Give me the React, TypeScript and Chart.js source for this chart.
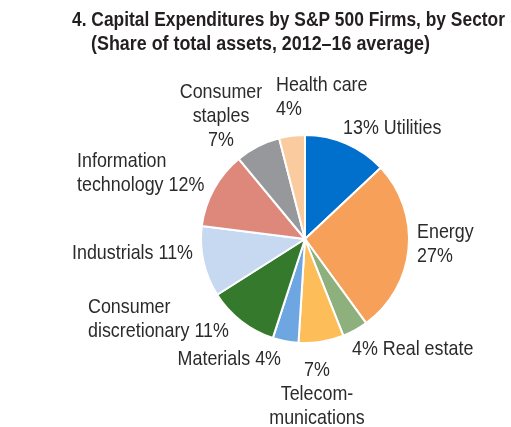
import React, { useEffect, useRef } from "react";
import { Chart, registerables } from "chart.js";

Chart.register(...registerables);

const sectors = [
  "Utilities",
  "Energy",
  "Real estate",
  "Telecommunications",
  "Materials",
  "Consumer discretionary",
  "Industrials",
  "Information technology",
  "Consumer staples",
  "Health care",
];
const shares = [13, 27, 4, 7, 4, 11, 11, 12, 7, 4];
const sliceColors = [
  "#0070CC",
  "#F7A05A",
  "#8DB07D",
  "#FDBE59",
  "#6DA6E0",
  "#357A2C",
  "#C6D9F1",
  "#DE887C",
  "#97989B",
  "#FBCBA0",
];
const labelLines = [
  ["13% Utilities"],
  ["Energy", "27%"],
  ["4% Real estate"],
  ["7%", "Telecom-", "munications"],
  ["Materials 4%"],
  ["Consumer", "discretionary 11%"],
  ["Industrials 11%"],
  ["Information", "technology 12%"],
  ["Consumer", "staples", "7%"],
  ["Health care", "4%"],
];
const titleLines = [
  "4. Capital Expenditures by S&P 500 Firms, by Sector",
  "(Share of total assets, 2012\u201316 average)",
];

// label placement relative to pie centre (layout only)
const labelLayout: { dx: number; dy: number; align: CanvasTextAlign }[] = [
  { dx: 38, dy: -111, align: "left" },
  { dx: 112, dy: -7, align: "left" },
  { dx: 47, dy: 110, align: "left" },
  { dx: 12, dy: 131, align: "center" },
  { dx: -24, dy: 120, align: "right" },
  { dx: -217, dy: 68, align: "left" },
  { dx: -112, dy: 14, align: "right" },
  { dx: -228, dy: -78, align: "left" },
  { dx: -84, dy: -147, align: "center" },
  { dx: -29, dy: -154, align: "left" },
];

const FONT = '"Liberation Sans", Arial, sans-serif';

function drawScaled(
  ctx: CanvasRenderingContext2D,
  text: string,
  x: number,
  y: number,
  align: CanvasTextAlign,
  sx: number
) {
  ctx.save();
  ctx.translate(x, y);
  ctx.scale(sx, 1);
  ctx.textAlign = align;
  ctx.fillText(text, 0, 0);
  ctx.restore();
}

const textPlugin = {
  id: "textPlugin",
  afterDraw(chart: any) {
    const ctx = chart.ctx as CanvasRenderingContext2D;
    const arc = chart.getDatasetMeta(0).data[0];
    if (!arc) return;
    const cx = arc.x;
    const cy = arc.y;
    ctx.save();
    ctx.textBaseline = "middle";
    // title
    ctx.fillStyle = "#231F20";
    ctx.font = "bold 20px " + FONT;
    const tsx1 = 433 / ctx.measureText(titleLines[0]).width;
    const tsx2 = 339 / ctx.measureText(titleLines[1]).width;
    drawScaled(ctx, titleLines[0], 72, 20, "left", tsx1);
    drawScaled(ctx, titleLines[1], 91, 44, "left", tsx2);
    // labels
    ctx.font = "21px " + FONT;
    const lsx = 121 / ctx.measureText("Industrials 11%").width;
    ctx.fillStyle = "#2B2B2B";
    labelLines.forEach((lines, i) => {
      const l = labelLayout[i];
      lines.forEach((t, j) => {
        drawScaled(ctx, t, cx + l.dx, cy + l.dy + j * 24, l.align, lsx);
      });
    });
    ctx.restore();
  },
};

export default function App() {
  const ref = useRef<HTMLCanvasElement>(null);
  useEffect(() => {
    if (!ref.current) return;
    const chart = new Chart(ref.current, {
      type: "pie",
      data: {
        labels: sectors,
        datasets: [
          {
            data: shares,
            backgroundColor: sliceColors,
            borderColor: "#FFFFFF",
            borderWidth: 2,
          },
        ],
      },
      options: {
        responsive: false,
        animation: false,
        layout: { padding: { left: 200, right: 101, top: 134, bottom: 83 } },
        plugins: {
          legend: { display: false },
          tooltip: { enabled: false },
          title: { display: false },
        },
      },
      plugins: [textPlugin],
    });
    return () => chart.destroy();
  }, []);
  return (
    <div style={{ position: "fixed", left: 0, top: 0, width: 511, height: 427, background: "#fff" }}>
      <canvas ref={ref} width={511} height={427} />
    </div>
  );
}
